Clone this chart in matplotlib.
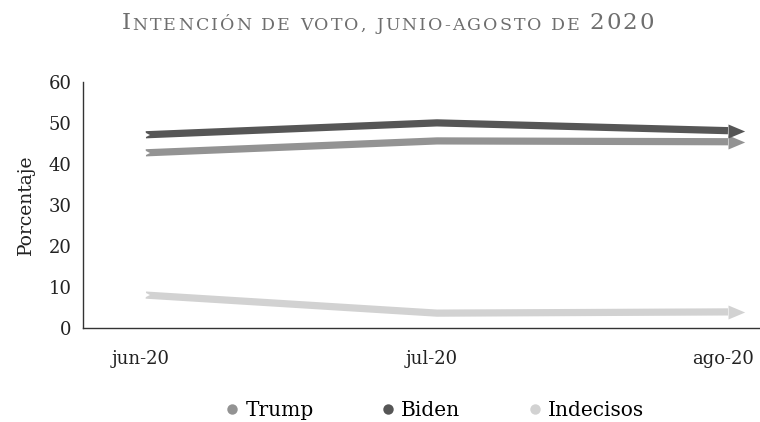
import matplotlib
matplotlib.use("Agg")
import matplotlib.pyplot as plt
import matplotlib.transforms as mtransforms
from matplotlib.lines import Line2D
from matplotlib.path import Path

plt.rcParams["font.family"] = ["DejaVu Serif"]

months = ["jun-20", "jul-20", "ago-20"]
series = ["Trump", "Biden", "Indecisos"]
trump = [42.7, 45.6, 45.4]
biden = [47.1, 50.0, 48.1]
indecisos = [8.0, 3.6, 3.9]
colors = ["#939393", "#565656", "#d2d2d2"]
yticks = [0, 10, 20, 30, 40, 50, 60]

fig = plt.figure(figsize=(7.6, 4.22), dpi=100)
ax = fig.add_axes([0.109, 0.223, 0.891, 0.583])

# arrow head whose base sits on the data point
head = Path([(0, -0.42), (1, 0), (0, 0.42), (0, -0.42)],
            [Path.MOVETO, Path.LINETO, Path.LINETO, Path.CLOSEPOLY])

x = list(range(len(months)))
for vals, col in zip([trump, biden, indecisos], colors):
    ax.plot(x, vals, color=col, lw=5.2, solid_capstyle="butt",
            solid_joinstyle="miter", zorder=2)
    ax.plot(x[-1:], vals[-1:], marker=head, markersize=24, color=col,
            markeredgewidth=0, linestyle="none", zorder=3)
    # notched tail
    ax.plot(x[:1], vals[:1], marker=">", markersize=6, color="white",
            markeredgewidth=0, linestyle="none", zorder=3)

ax.set_xlim(-0.2165, 2.110)
ax.set_ylim(0, 60)
ax.set_xticks(x)
ax.set_xticklabels(months, fontsize=13)
ax.set_yticks(yticks)
ax.set_yticklabels([str(v) for v in yticks], fontsize=13)
ax.tick_params(axis="both", length=0, colors="#222222")
ax.tick_params(axis="x", pad=16)
ax.tick_params(axis="y", pad=8)
ax.set_ylabel("Porcentaje", fontsize=13.5, color="#222222", labelpad=10)

shift = mtransforms.ScaledTranslation(-5 / 100, 0, fig.dpi_scale_trans)
for lab in ax.get_xticklabels():
    lab.set_transform(lab.get_transform() + shift)

for side in ["top", "right"]:
    ax.spines[side].set_visible(False)
for side in ["left", "bottom"]:
    ax.spines[side].set_color("#333333")
    ax.spines[side].set_linewidth(1.0)

# title in small caps with letter spacing, one character at a time
tcol = "#6e6e6e"
title = "Intención de voto, junio-agosto de 2020"
prev = fig.text(0.160, 0.92, "", fontsize=16, color=tcol,
                ha="left", va="baseline")
for i, ch in enumerate(title):
    big = ch.isupper() or ch.isdigit()
    size = 16.5 if big else 12.5
    gap = 0 if i == 0 else 1.5
    prev = ax.annotate(ch.upper(), xy=(1, 0), xycoords=prev,
                       xytext=(gap, 0), textcoords="offset points",
                       fontsize=size, color=tcol, ha="left", va="bottom",
                       annotation_clip=False)

handles = [Line2D([], [], marker="o", linestyle="none", markersize=7.5,
                  markerfacecolor=c, markeredgewidth=0) for c in colors]
fig.legend(handles, series, loc="center", bbox_to_anchor=(0.57, 0.028),
           ncol=3, frameon=False, fontsize=14.5, handletextpad=0.15,
           columnspacing=3.2, handlelength=1.0)

fig.savefig("out.png", dpi=100)
